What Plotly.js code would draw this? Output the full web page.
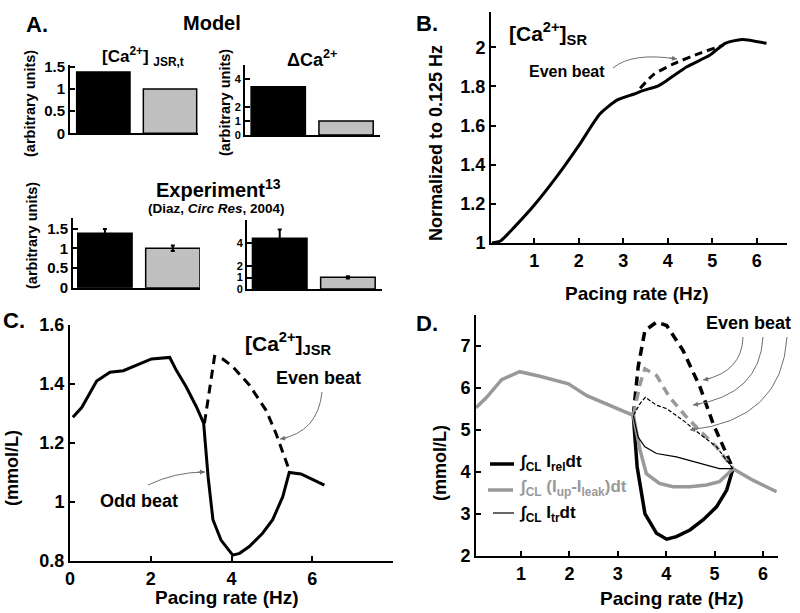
<!DOCTYPE html>
<html><head><meta charset="utf-8">
<script src="https://cdn.plot.ly/plotly-3.0.1.min.js"></script>
<style>html,body{margin:0;padding:0;background:#fff}#chart{width:800px;height:613px}</style>
</head><body><div id="chart"></div>
<script>
// ---------- DATA ----------
const barCats = [1, 2];
const modelJSR = [1.38, 1.0];
const modelDelta = [3.45, 1.0];
const expJSR = [1.38, 1.0];
const expJSRErr = [0.11, 0.07];
const expDelta = [4.44, 1.02];
const expDeltaErr = [0.78, 0.1];

// Panel B: [Ca2+]SR normalized
const bX = [0.05, 0.24, 0.57, 0.99, 1.51, 2.01, 2.48, 2.86, 3.23, 3.46, 3.76, 3.98, 4.43, 4.95, 5.29, 5.67, 6.22];
const bY = [1.0, 1.01, 1.085, 1.19, 1.34, 1.50, 1.66, 1.73, 1.76, 1.78, 1.80, 1.83, 1.90, 1.96, 2.02, 2.04, 2.02];
const bEvenX = [3.38, 3.68, 4.13, 4.73, 5.25];
const bEvenY = [1.79, 1.86, 1.915, 1.97, 2.01];

// Panel C: [Ca2+]JSR
const cOddX = [0.07, 0.29, 0.66, 0.99, 1.32, 1.65, 2.02, 2.47, 2.63, 2.88, 3.13, 3.31, 3.42, 3.54, 3.74, 4.03, 4.2, 4.44, 4.77, 5.02, 5.27, 5.43, 5.72, 6.3];
const cOddY = [1.287, 1.32, 1.41, 1.44, 1.445, 1.465, 1.485, 1.49, 1.447, 1.39, 1.323, 1.267, 1.086, 0.94, 0.871, 0.82, 0.826, 0.849, 0.894, 0.94, 1.018, 1.1, 1.095, 1.057];
const cEvenX = [3.33, 3.42, 3.58, 3.79, 4.03, 4.44, 4.86, 5.1, 5.43];
const cEvenY = [1.267, 1.346, 1.493, 1.484, 1.459, 1.397, 1.31, 1.233, 1.108];

// Panel D: integrated fluxes
const dComX = [0.07, 0.29, 0.6, 0.97, 1.39, 1.98, 2.36, 2.91, 3.32];
const dComY = [5.53, 5.78, 6.2, 6.39, 6.28, 6.10, 5.82, 5.55, 5.35];
const dTailX = [5.38, 5.8, 6.28];
const dTailY = [4.08, 3.8, 3.53];
const relEvenX = [3.32, 3.42, 3.56, 3.80, 4.01, 4.35, 4.7, 4.97, 5.38];
const relEvenY = [5.35, 6.5, 7.37, 7.57, 7.49, 6.89, 6.02, 5.15, 4.08];
const relOddX = [3.32, 3.40, 3.56, 3.80, 4.01, 4.21, 4.49, 4.76, 5.04, 5.25, 5.38];
const relOddY = [5.35, 4.12, 3.01, 2.54, 2.40, 2.46, 2.62, 2.86, 3.17, 3.57, 4.08];
const upEvenX = [3.32, 3.46, 3.56, 3.80, 4.07, 4.42, 4.69, 5.04, 5.38];
const upEvenY = [5.35, 6.1, 6.46, 6.3, 5.78, 5.31, 4.99, 4.6, 4.08];
const upOddX = [3.32, 3.46, 3.59, 3.86, 4.14, 4.49, 4.83, 5.1, 5.38];
const upOddY = [5.35, 4.52, 3.96, 3.73, 3.65, 3.65, 3.69, 3.77, 4.08];
const trEvenX = [3.32, 3.46, 3.57, 3.8, 4.01, 4.35, 4.69, 5.04, 5.38];
const trEvenY = [5.35, 5.63, 5.78, 5.59, 5.51, 5.23, 4.91, 4.6, 4.08];
const trOddX = [3.32, 3.42, 3.56, 3.8, 4.21, 4.69, 5.1, 5.38];
const trOddY = [5.35, 4.83, 4.6, 4.44, 4.36, 4.2, 4.08, 4.08];

// ---------- LAYOUT HELPERS ----------
const W = 800, H = 613;
const FONT = 'Liberation Sans, Arial, Helvetica, sans-serif';
const px = x => x / W;
const py = y => 1 - y / H;
const GRAY_BAR = '#c0c0c0';
const GRAY_LINE = '#999999';
const ARROW = '#707070';

function xAx(l, r, range, opts) {
  return Object.assign({domain: [px(l), px(r)], range: range, showline: true, linecolor: '#000', linewidth: 2,
    ticks: 'inside', ticklen: 5, tickwidth: 2, tickcolor: '#000', showgrid: false, zeroline: false,
    tickfont: {family: FONT, size: 18, color: '#000', weight: 700}, fixedrange: true}, opts || {});
}
function yAx(b, t, range, opts) {
  return Object.assign({domain: [py(b), py(t)], range: range, showline: true, linecolor: '#000', linewidth: 2,
    ticks: 'inside', ticklen: 5, tickwidth: 2, tickcolor: '#000', showgrid: false, zeroline: false,
    tickfont: {family: FONT, size: 18, color: '#000', weight: 700}, fixedrange: true}, opts || {});
}
const noX = {showticklabels: false, ticks: ''};
const aTick = {family: FONT, size: 15, color: '#000', weight: 700};
const aTickSmall = {family: FONT, size: 11, color: '#000', weight: 700};

const layout = {
  width: W, height: H, margin: {l: 0, r: 0, t: 0, b: 0}, showlegend: false,
  paper_bgcolor: '#fff', plot_bgcolor: 'rgba(0,0,0,0)', font: {family: FONT, color: '#000'},
  bargap: 0.2,
  // A model left
  xaxis: xAx(70, 198, [0.5, 2.42], Object.assign({anchor: 'y'}, noX)),
  yaxis: yAx(133.3, 65, [0, 1.54], {anchor: 'x', tickvals: [0, 0.5, 1, 1.5], ticktext: ['0', '0.5', '1', '1.5'], tickfont: aTick}),
  // A model right
  xaxis2: xAx(245, 380, [0.51, 2.5], Object.assign({anchor: 'y2'}, noX)),
  yaxis2: yAx(135, 65, [0, 5], {anchor: 'x2', tickvals: [0, 1, 2, 4], tickfont: aTickSmall}),
  // A experiment left
  xaxis3: xAx(73, 200, [0.53, 2.4], Object.assign({anchor: 'y3'}, noX)),
  yaxis3: yAx(287.7, 218, [0, 1.77], {anchor: 'x3', tickvals: [0, 0.5, 1, 1.5], ticktext: ['0', '0.5', '1', '1.5'], tickfont: aTick}),
  // A experiment right
  xaxis4: xAx(247, 382, [0.52, 2.5], Object.assign({anchor: 'y4'}, noX)),
  yaxis4: yAx(289, 220, [0, 6.05], {anchor: 'x4', tickvals: [0, 1, 2, 4, 6], ticktext: ['0', '1', '2', '4', ''], tickfont: aTickSmall}),
  // B
  xaxis5: xAx(491, 787, [0.03, 6.68], {anchor: 'y5', tickvals: [1, 2, 3, 4, 5, 6]}),
  yaxis5: yAx(243, 12, [1, 2.18], {anchor: 'x5', tickvals: [1, 1.2, 1.4, 1.6, 1.8, 2], ticktext: ['1', '1.2', '1.4', '1.6', '1.8', '2']}),
  // C
  xaxis6: xAx(70, 393, [0, 8], {anchor: 'y6', tickvals: [0, 2, 4, 6]}),
  yaxis6: yAx(561, 325, [0.8, 1.6], {anchor: 'x6', tickvals: [0.8, 1, 1.2, 1.4, 1.6], ticktext: ['0.8', '1', '1.2', '1.4', '1.6']}),
  // D
  xaxis7: xAx(476, 778, [0.07, 6.31], {anchor: 'y7', tickvals: [1, 2, 3, 4, 5, 6]}),
  yaxis7: yAx(556, 315, [2, 7.74], {anchor: 'x7', tickvals: [2, 3, 4, 5, 6, 7]}),
  annotations: [], shapes: []
};

function ann(text, x, y, size, o) {
  layout.annotations.push(Object.assign({text: text, x: px(x), y: py(y), xref: 'paper', yref: 'paper',
    showarrow: false, xanchor: 'center', yanchor: 'middle',
    font: {family: FONT, size: size, color: '#000', weight: 700}}, o || {}));
}
function curveArrow(x0, y0, cx, cy, x1, y1) {
  layout.shapes.push({type: 'path', xref: 'paper', yref: 'paper',
    path: `M ${px(x0)},${py(y0)} Q ${px(cx)},${py(cy)} ${px(x1)},${py(y1)}`,
    line: {color: ARROW, width: 1}});
  const dx = cx - x1, dy = cy - y1, L = Math.hypot(dx, dy) || 1;
  layout.annotations.push({x: px(x1), y: py(y1), xref: 'paper', yref: 'paper', text: '', showarrow: true,
    ax: dx / L * 9, ay: dy / L * 9, arrowhead: 2, arrowsize: 1, arrowwidth: 1, arrowcolor: ARROW, standoff: 0});
}

// Panel A texts
ann('A.', 37, 25, 22);
ann('Model', 212, 23, 20);
ann('[Ca<sup>2+</sup>] <sub>JSR,t</sub>', 143, 57, 17);
ann('ΔCa<sup>2+</sup>', 312, 58, 18);
ann('(arbitrary units)', 30, 104, 14.5, {textangle: -90});
ann('(arbitrary units)', 225, 103, 14.5, {textangle: -90});
ann('Experiment<sup>13</sup>', 218, 188, 20);
ann('(Diaz, <i>Circ Res</i>, 2004)', 216, 208, 13.5);
ann('(arbitrary units)', 32, 236, 14.5, {textangle: -90});
// Panel B texts
ann('B.', 427, 24, 22);
ann('[Ca<sup>2+</sup>]<sub>SR</sub>', 548, 33, 21);
ann('Even beat', 567, 71, 16);
ann('Normalized to 0.125 Hz', 436, 143, 18, {textangle: -90});
ann('Pacing rate (Hz)', 637, 294, 19);
curveArrow(613, 68, 632, 52, 677, 59);
// Panel C texts
ann('C.', 14, 320, 22);
ann('[Ca<sup>2+</sup>]<sub>JSR</sub>', 288, 343, 21);
ann('Even beat', 318, 378, 18);
ann('Odd beat', 139, 501, 18);
ann('(mmol/L)', 12, 468, 18, {textangle: -90});
ann('Pacing rate (Hz)', 227, 597, 19);
curveArrow(322, 392, 318, 432, 280, 439);
curveArrow(148, 485, 175, 472, 205, 472);
// Panel D texts
ann('D.', 427, 323, 22);
ann('Even beat', 748, 323, 18);
ann('(mmol/L)', 440, 463, 18, {textangle: -90});
ann('Pacing rate (Hz)', 672, 598, 19);
curveArrow(743, 337, 742, 372, 703, 380);
curveArrow(763, 337, 760, 395, 693, 405);
curveArrow(787, 337, 782, 420, 690, 430);
// Panel D legend
function legLine(x0, x1, y, color, w) {
  layout.shapes.push({type: 'line', xref: 'paper', yref: 'paper', x0: px(x0), x1: px(x1), y0: py(y), y1: py(y),
    line: {color: color, width: w}});
}
legLine(490, 514, 464, '#000', 3.5);
legLine(488, 513, 490, GRAY_LINE, 3.5);
legLine(493, 514, 513, '#000', 1.2);
ann('∫<sub>CL</sub> I<sub>rel</sub>dt', 517, 463, 17, {xanchor: 'left'});
ann('∫<sub>CL</sub> (I<sub>up</sub>-I<sub>leak</sub>)dt', 517, 488, 17, {xanchor: 'left', font: {family: FONT, size: 17, color: GRAY_LINE, weight: 700}});
ann('∫<sub>CL</sub> I<sub>tr</sub>dt', 517, 514, 17, {xanchor: 'left'});

// ---------- TRACES ----------
const barLine = {color: '#000', width: 1.5};
const bars = (xa, ya, y, err) => ({type: 'bar', x: barCats, y: y, xaxis: xa, yaxis: ya, width: 0.8,
  marker: {color: ['#000', GRAY_BAR], line: barLine}, hoverinfo: 'none',
  error_y: err ? {type: 'data', array: err, visible: true, color: '#000', thickness: 2, width: 2} : {visible: false}});
const line = (xa, ya, x, y, color, w, dash, smooth) => ({type: 'scatter', mode: 'lines', x: x, y: y, xaxis: xa, yaxis: ya,
  line: Object.assign({color: color, width: w, dash: dash || 'solid'}, smooth ? {shape: 'spline', smoothing: smooth} : {}), hoverinfo: 'none'});

const data = [
  bars('x', 'y', modelJSR),
  bars('x2', 'y2', modelDelta),
  bars('x3', 'y3', expJSR, expJSRErr),
  bars('x4', 'y4', expDelta, expDeltaErr),
  line('x5', 'y5', bX, bY, '#000', 3, null, 0.6),
  line('x5', 'y5', bEvenX, bEvenY, '#000', 3, '8px,5px', 0.6),
  line('x6', 'y6', cOddX, cOddY, '#000', 3),
  line('x6', 'y6', cEvenX, cEvenY, '#000', 3, '9px,6px'),
  line('x7', 'y7', relOddX, relOddY, '#000', 3.5),
  line('x7', 'y7', relEvenX, relEvenY, '#000', 3.5, '9px,6px'),
  line('x7', 'y7', upOddX, upOddY, GRAY_LINE, 3.5),
  line('x7', 'y7', upEvenX, upEvenY, GRAY_LINE, 3.5, '9px,6px'),
  line('x7', 'y7', trOddX, trOddY, '#000', 1.2),
  line('x7', 'y7', trEvenX, trEvenY, '#000', 1.2, '4px,2px'),
  line('x7', 'y7', dComX, dComY, GRAY_LINE, 3.5),
  line('x7', 'y7', dTailX, dTailY, GRAY_LINE, 3.5)
];

Plotly.newPlot('chart', data, layout, {displayModeBar: false, staticPlot: true});
</script>
</body></html>
